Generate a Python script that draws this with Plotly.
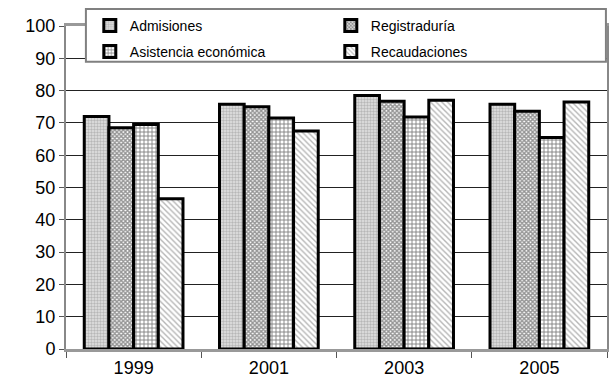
import plotly.graph_objects as go

# Survey years and satisfaction scores per office
years = ["1999", "2001", "2003", "2005"]
admisiones = [72.0, 75.8, 78.5, 75.8]
registraduria = [68.5, 75.0, 76.7, 73.6]
asistencia = [69.5, 71.5, 71.8, 65.5]
recaudaciones = [46.5, 67.5, 77.0, 76.5]

series = [
    ("Admisiones", admisiones, "legend",
     dict(shape=".", fgcolor="#8c8c8c", bgcolor="#e2e2e2", size=3, solidity=0.5)),
    ("Registraduría", registraduria, "legend",
     dict(shape="x", fgcolor="#2a2a2a", bgcolor="#ffffff", size=3, solidity=0.7)),
    ("Asistencia económica", asistencia, "legend2",
     dict(shape="+", fgcolor="#000000", bgcolor="#ffffff", size=4, solidity=0.4)),
    ("Recaudaciones", recaudaciones, "legend2",
     dict(shape="\\", fgcolor="#6e6e6e", bgcolor="#ffffff", size=4, solidity=0.35)),
]

fig = go.Figure()
for name, vals, leg, pat in series:
    fig.add_trace(go.Bar(
        x=years, y=vals, name=name, legend=leg,
        marker=dict(color=pat["bgcolor"], pattern=pat,
                    line=dict(color="black", width=3)),
    ))

legend_style = dict(
    orientation="h", xanchor="left", yanchor="middle",
    bgcolor="rgba(0,0,0,0)", borderwidth=0,
    font=dict(size=14), entrywidth=196, entrywidthmode="pixels",
    traceorder="normal",
)

fig.update_layout(
    width=611, height=388,
    margin=dict(l=66, r=2, t=26, b=39),
    barmode="group", bargap=0.27, bargroupgap=0,
    plot_bgcolor="white", paper_bgcolor="white",
    font=dict(family="Liberation Sans, Arial, sans-serif", color="black"),
    legend=dict(x=0.044, y=1.0, **legend_style),
    legend2=dict(x=0.044, y=0.92, **legend_style),
    shapes=[dict(
        type="rect", xref="paper", yref="paper",
        x0=0.0368, x1=0.998, y0=0.889, y1=1.0526,
        fillcolor="white", line=dict(color="#808080", width=2),
        layer="above",
    )],
)
fig.update_yaxes(
    range=[0, 100], dtick=10, tickfont=dict(size=18),
    showgrid=True, gridcolor="#222222", gridwidth=1,
    ticks="outside", ticklen=5, tickcolor="#555555",
    showline=True, linecolor="#888888", linewidth=2, mirror=True,
    zeroline=False,
)
fig.update_xaxes(
    tickfont=dict(size=18), tickson="boundaries",
    ticks="outside", ticklen=6, tickcolor="#555555",
    showline=True, linecolor="#999999", linewidth=3, mirror=True,
)

fig.write_html("out.html")
